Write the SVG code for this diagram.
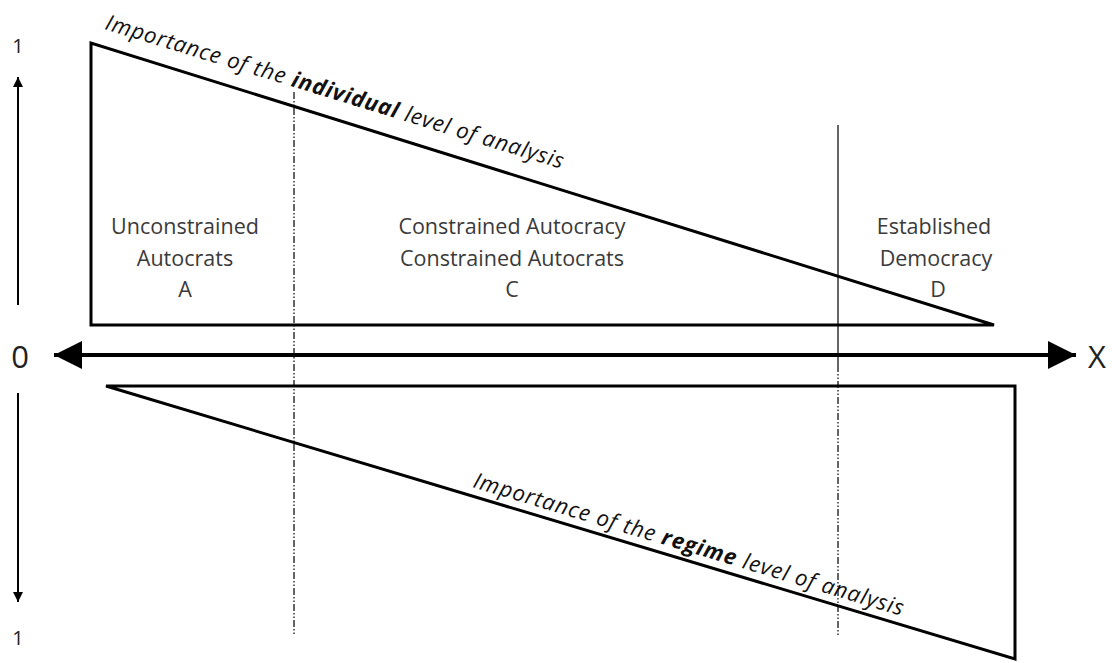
<svg xmlns="http://www.w3.org/2000/svg" width="1112" height="663" viewBox="0 0 1112 663">
<defs>
<style>
.shape{fill:none;stroke:#000;stroke-width:3;stroke-linejoin:miter}
.lbl{font-family:"Open Sans","Liberation Sans",sans-serif;font-size:21.5px;fill:#3a3a3a;text-anchor:middle}
.axis{font-family:"Open Sans","Liberation Sans",sans-serif;fill:#222;text-anchor:middle}
.ital{font-family:"Open Sans","Liberation Sans",sans-serif;font-size:22px;font-style:italic;fill:#111}
.dash{stroke:#000;stroke-width:1.2;fill:none;stroke-dasharray:7 2 1.5 2 1.5 2}
.solid{stroke:#000;stroke-width:1.2;fill:none}
</style>
<marker id="bigArrow" viewBox="0 0 10 10" refX="10" refY="5" markerWidth="7" markerHeight="7" markerUnits="strokeWidth" orient="auto-start-reverse">
<path d="M0,0 L10,5 L0,10 Z" fill="#000"/>
</marker>
<marker id="smallArrow" viewBox="0 0 10 10" refX="10" refY="5" markerWidth="5" markerHeight="5" markerUnits="strokeWidth" orient="auto-start-reverse">
<path d="M0,0 L10,5 L0,10 Z" fill="#000"/>
</marker>
</defs>
<rect width="1112" height="663" fill="#fff"/>

<g id="upper-triangle">
<path class="shape" d="M91,43 L91,325 L994,325 Z"/>
<text class="ital" transform="translate(104,29) rotate(17)" textLength="478" lengthAdjust="spacing">Importance of the <tspan font-weight="bold">individual</tspan> level of analysis</text>
</g>

<g id="lower-triangle">
<path class="shape" d="M106,386 L1015,386 L1015,659 Z"/>
<text class="ital" transform="translate(472,487) rotate(16.7)" textLength="448" lengthAdjust="spacing">Importance of the <tspan font-weight="bold">regime</tspan> level of analysis</text>
</g>

<g id="connectors">
<line x1="54" y1="355" x2="1076" y2="355" stroke="#000" stroke-width="4" marker-start="url(#bigArrow)" marker-end="url(#bigArrow)"/>
<line x1="18" y1="305" x2="18" y2="77" stroke="#000" stroke-width="2" marker-end="url(#smallArrow)"/>
<line x1="18" y1="393" x2="18" y2="602" stroke="#000" stroke-width="2" marker-end="url(#smallArrow)"/>
<line class="dash" x1="294" y1="92" x2="294" y2="636"/>
<line class="solid" x1="838" y1="125" x2="838" y2="365"/>
<line class="dash" x1="838" y1="365" x2="838" y2="636"/>
</g>

<g id="axis-labels">
<text class="axis" x="20" y="368" font-size="31">0</text>
<text class="axis" x="1097" y="368" font-size="31">X</text>
<text class="axis" x="18" y="53" font-size="20">1</text>
<text class="axis" x="18" y="645" font-size="20">1</text>
</g>

<g id="node-A">
<text class="lbl" x="185" y="234">Unconstrained</text>
<text class="lbl" x="185" y="266">Autocrats</text>
<text class="lbl" x="185" y="297">A</text>
</g>

<g id="node-C">
<text class="lbl" x="512" y="234">Constrained Autocracy</text>
<text class="lbl" x="512" y="266">Constrained Autocrats</text>
<text class="lbl" x="512" y="297">C</text>
</g>

<g id="node-D">
<text class="lbl" x="934" y="234">Established</text>
<text class="lbl" x="936" y="266">Democracy</text>
<text class="lbl" x="938" y="297">D</text>
</g>
</svg>
